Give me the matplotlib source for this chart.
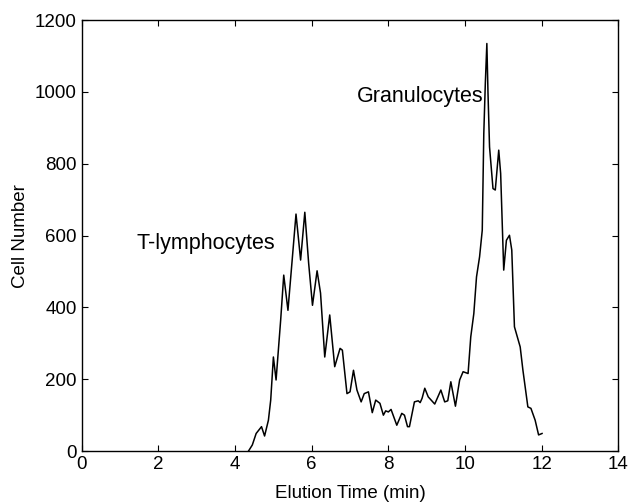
import matplotlib
matplotlib.use("Agg")
import matplotlib.pyplot as plt

# elution profile
elution_time = [4.35, 4.45, 4.55, 4.69, 4.77, 4.87, 4.93, 5.0, 5.07, 5.19, 5.27, 5.38, 5.49, 5.59,
                5.71, 5.82, 5.92, 6.02, 6.14, 6.23, 6.34, 6.47, 6.6, 6.74, 6.8, 6.92, 7.0, 7.09,
                7.18, 7.29, 7.37, 7.48, 7.58, 7.67, 7.78, 7.87, 7.93, 8.0, 8.07, 8.22, 8.35, 8.42,
                8.5, 8.55, 8.68, 8.78, 8.83, 8.88, 8.95, 9.04, 9.21, 9.37, 9.47, 9.55, 9.63, 9.75,
                9.86, 9.95, 10.08, 10.15, 10.23, 10.3, 10.38, 10.45, 10.49, 10.53, 10.57, 10.6,
                10.64, 10.73, 10.79, 10.88, 10.93, 11.01, 11.08, 11.16, 11.22, 11.29, 11.44,
                11.51, 11.64, 11.72, 11.83, 11.92, 12.01]
cell_number = [0, 17, 49, 68, 42, 86, 142, 262, 198, 365, 490, 392, 532, 660,
               532, 665, 523, 406, 502, 440, 262, 379, 235, 286, 281, 160, 165, 225,
               170, 137, 160, 165, 107, 142, 133, 100, 112, 109, 116, 72, 105, 100,
               68, 68, 137, 140, 135, 147, 175, 151, 131, 170, 137, 140, 193, 125,
               198, 221, 216, 318, 383, 485, 541, 615, 884, 1024, 1135, 996,
               847, 731, 727, 838, 773, 504, 587, 601, 560, 346, 290,
               226, 123, 119, 86, 45, 49]

x_ticks = [0, 2, 4, 6, 8, 10, 12, 14]
y_ticks = [0, 200, 400, 600, 800, 1000, 1200]

plt.rcParams['font.family'] = ['Liberation Sans', 'DejaVu Sans']

fig = plt.figure(figsize=(6.29, 5.04), dpi=100)
ax = fig.add_axes([0.130, 0.105, 0.853, 0.855])

ax.plot(elution_time, cell_number, color='black', linewidth=1.1)

ax.set_xlim(0, 14)
ax.set_ylim(0, 1200)
ax.set_xticks(x_ticks)
ax.set_yticks(y_ticks)
ax.tick_params(direction='in', length=4, top=True, right=True, labelsize=13.5)
for side in ax.spines.values():
    side.set_linewidth(1.0)

# peak labels
ax.text(1.43, 579, 'T-lymphocytes', fontsize=15.5, va='center', ha='left')
ax.text(7.17, 988, 'Granulocytes', fontsize=15.5, va='center', ha='left')

ax.set_xlabel('Elution Time (min)', fontsize=13.5, labelpad=9)
ax.set_ylabel('Cell Number', fontsize=13.5, labelpad=4)

fig.savefig('out.png', dpi=100)
